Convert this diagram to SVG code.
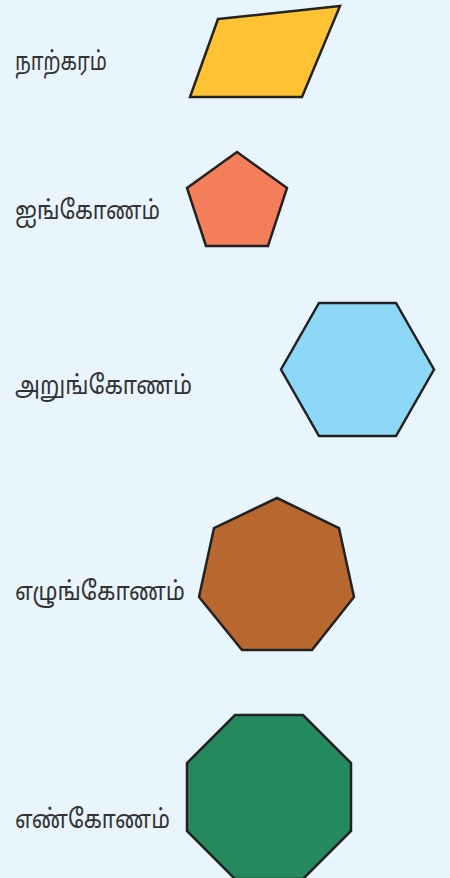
<svg xmlns="http://www.w3.org/2000/svg" width="450" height="878" viewBox="0 0 450 878">
<style>
.lbl{font-family:"Noto Sans Tamil","Noto Sans","Liberation Sans",sans-serif;font-size:26px;fill:#333}
.sh{stroke:#222;stroke-width:2.5;stroke-linejoin:miter}
</style>
<rect x="0" y="0" width="450" height="878" fill="#E8F5FD"/>
<g id="quad">
<text class="lbl" x="15" y="70" textLength="92" lengthAdjust="spacingAndGlyphs">நாற்கரம்</text>
<polygon class="sh" fill="#FEC232" points="218,19 340,6 302,97 190,97"/>
</g>
<g id="pentagon">
<text class="lbl" x="15" y="219" textLength="145" lengthAdjust="spacingAndGlyphs">ஐங்கோணம்</text>
<polygon class="sh" fill="#F47E5A" points="237,152 287,188 268,246 206,246 187,188"/>
</g>
<g id="hexagon">
<text class="lbl" x="15" y="394" textLength="177" lengthAdjust="spacingAndGlyphs">அறுங்கோணம்</text>
<polygon class="sh" fill="#8DD8F6" points="319,303 396,303 434,369.5 396,436 319,436 281,369.5"/>
</g>
<g id="heptagon">
<text class="lbl" x="15" y="600" textLength="170" lengthAdjust="spacingAndGlyphs">எழுங்கோணம்</text>
<polygon class="sh" fill="#B8672F" points="277,498 339,528 354,597 312,650 242,650 199,597 214,528"/>
</g>
<g id="octagon">
<text class="lbl" x="15" y="828" textLength="155" lengthAdjust="spacingAndGlyphs">எண்கோணம்</text>
<polygon class="sh" fill="#248A5E" points="235,715 303,715 351,763 351,831 303,879 235,879 187,831 187,763"/>
</g>
</svg>
